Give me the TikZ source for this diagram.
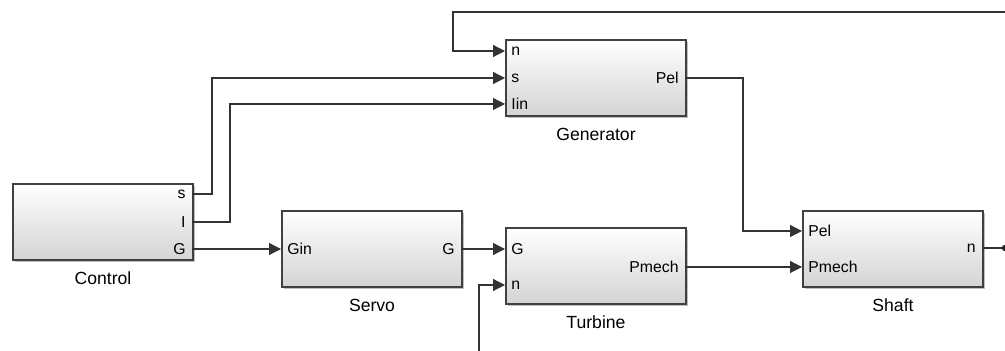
\documentclass[tikz,border=0pt]{standalone}
\usepackage{fontspec}
\setmainfont{Liberation Sans}
\usetikzlibrary{arrows.meta,shadows}

\tikzset{
  block/.style={draw=black!75, line width=1pt, top color=white, middle color=black!3,
    bottom color=black!17, minimum width=90pt, minimum height=38pt, anchor=north west,
    inner sep=0pt, drop shadow={shadow xshift=1pt, shadow yshift=-1pt, fill=black, opacity=.25}},
  port/.style={font=\fontsize{7.9}{9}\selectfont, inner sep=0pt},
  inport/.style={port, anchor=west, xshift=3pt},
  outport/.style={port, anchor=east, xshift=-3pt},
  title/.style={font=\fontsize{8.8}{10}\selectfont, inner sep=0pt},
  wire/.style={draw=black!80, line width=0.6pt},
  sig/.style={wire, -{Triangle[length=6pt,width=6pt]}}
}

\begin{document}
\begin{tikzpicture}[x=0.5pt,y=-0.5pt]
    \useasboundingbox (0,0) rectangle (1005,351);

    % ================= BLOCKS =================
    \node[block] (control) at (12,183) {};
    \node[block] (servo) at (281,210) {};
    \node[block] (turbine) at (505,227) {};
    \node[block] (generator) at (505,39) {};
    \node[block] (shaft) at (802,210) {};

    % block names
    \node[title] at ([yshift=-8.5pt]control.south) {Control};
    \node[title] at ([yshift=-8.5pt]servo.south) {Servo};
    \node[title] at ([yshift=-8.5pt]turbine.south) {Turbine};
    \node[title] at ([yshift=-8.5pt]generator.south) {Generator};
    \node[title] at ([yshift=-8.5pt]shaft.south) {Shaft};

    % ================= PORTS =================
    % Control
    \coordinate (ctl-s) at (192,194);
    \coordinate (ctl-I) at (192,222);
    \coordinate (ctl-G) at (192,249);
    \node[outport] at (ctl-s) {s};
    \node[outport] at (ctl-I) {I};
    \node[outport] at (ctl-G) {G};

    % Servo
    \coordinate (srv-Gin) at (281,249);
    \coordinate (srv-G) at (461,249);
    \node[inport] at (srv-Gin) {Gin};
    \node[outport] at (srv-G) {G};

    % Turbine
    \coordinate (trb-G) at (505,249);
    \coordinate (trb-n) at (505,285);
    \coordinate (trb-Pmech) at (685,267);
    \node[inport] at (trb-G) {G};
    \node[inport] at (trb-n) {n};
    \node[outport] at (trb-Pmech) {Pmech};

    % Generator
    \coordinate (gen-n) at (505,51);
    \coordinate (gen-s) at (505,78);
    \coordinate (gen-lin) at (505,104);
    \coordinate (gen-Pel) at (685,78);
    \node[inport] at (gen-n) {n};
    \node[inport] at (gen-s) {s};
    \node[inport] at (gen-lin) {Iin};
    \node[outport] at (gen-Pel) {Pel};

    % Shaft
    \coordinate (sft-Pel) at (802,231);
    \coordinate (sft-Pmech) at (802,267);
    \coordinate (sft-n) at (982,248);
    \node[inport] at (sft-Pel) {Pel};
    \node[inport] at (sft-Pmech) {Pmech};
    \node[outport] at (sft-n) {n};

    % ================= SIGNALS =================
    \draw[sig] (ctl-s) -- ++(20,0) |- (gen-s);
    \draw[sig] (ctl-I) -- ++(38,0) |- (gen-lin);
    \draw[sig] (ctl-G) -- (srv-Gin);
    \draw[sig] (srv-G) -- (trb-G);
    \draw[sig] (gen-Pel) -- ++(58,0) |- (sft-Pel);
    \draw[sig] (trb-Pmech) -- (sft-Pmech);

    % speed output and feedback (cut at the border)
    \coordinate (branch) at (1005,248);
    \draw[wire] (sft-n) -- (branch);
    \fill[black!85] (branch) circle (1.6pt);
    \coordinate (fb) at (1005,12);
    \draw[sig] (fb) -| ([xshift=-26pt]gen-n) -- (gen-n);
    \coordinate (nin) at (479,351);
    \draw[sig] (nin) |- (trb-n);

\end{tikzpicture}
\end{document}
